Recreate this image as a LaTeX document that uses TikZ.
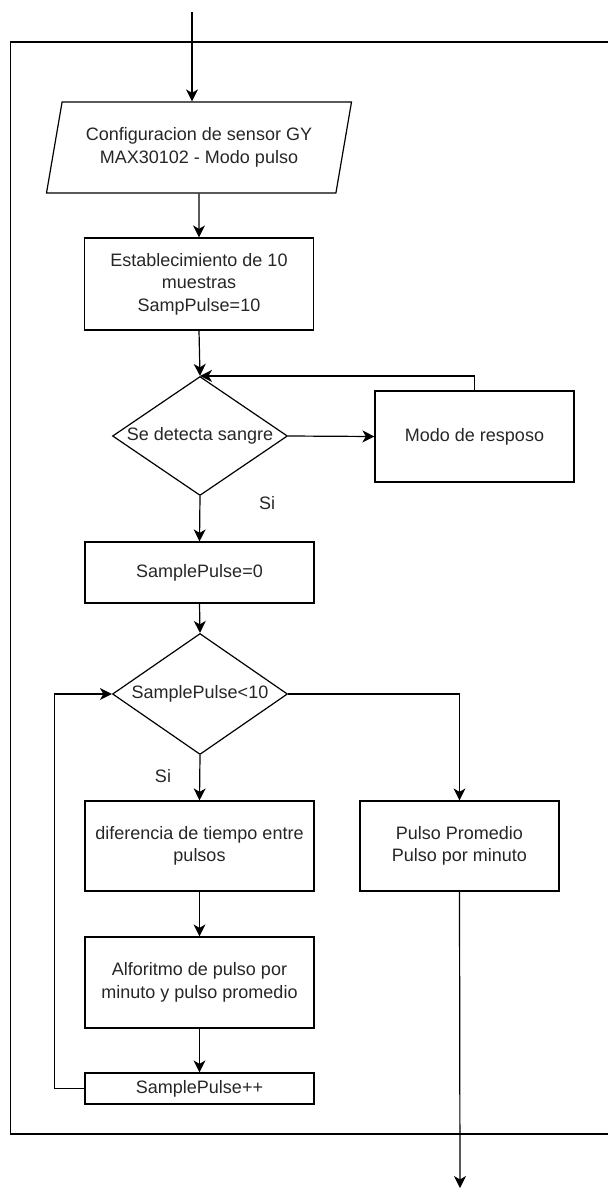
\documentclass[tikz,border=0pt]{standalone}
\usepackage{fontspec}
\setmainfont{Liberation Sans}
\usetikzlibrary{positioning, arrows.meta, shapes.geometric}

\begin{document}
\begin{tikzpicture}[x=1pt, y=-1pt, line width=1.2pt,
    every node/.style={font=\fontsize{18}{22.5}\selectfont, text=black!85, align=center},
    proc/.style={draw, rectangle, minimum width=229, inner sep=0pt},
    cond/.style={draw, diamond, aspect=1.47, minimum width=175, minimum height=119, inner sep=0pt},
    inout/.style={draw, trapezium, trapezium left angle=71, trapezium right angle=109,
        trapezium stretches body, minimum width=305, minimum height=91, inner sep=3pt},
    flow/.style={-{Stealth[length=12pt, width=12pt, inset=3.5pt]}},
]
    \useasboundingbox (0,0) rectangle (608,1190);
    \draw (608,42) -- (10.5,42) -- (10.5,1134) -- (608,1134);

    \coordinate (start) at (192,12);
    \coordinate (finish) at (460,1188);
    \node[inout] (conf) at (199,147.5) {Configuracion de sensor GY\\MAX30102 - Modo pulso};
    \node[proc, minimum height=92] (est) at (199,284) {Establecimiento de 10\\muestras\\SampPulse=10};
    \node[cond] (det) at (200,436) {Se detecta sangre};
    \node[proc, minimum width=199, minimum height=91] (rep) at (474.5,436.5) {Modo de resposo};
    \node[proc, minimum height=61] (sp0) at (199.5,572.5) {SamplePulse=0};
    \node[cond, minimum height=121] (cmp) at (200,694) {SamplePulse<10};
    \node[proc, minimum height=90] (dif) at (199.5,846) {diferencia de tiempo entre\\pulsos};
    \node[proc, minimum width=199, minimum height=90] (prom) at (459.5,846) {Pulso Promedio\\Pulso por minuto};
    \node[proc, minimum height=91] (alg) at (199.5,982.5) {Alforitmo de pulso por\\minuto y pulso promedio};
    \node[proc, minimum height=31] (inc) at (199.5,1088.5) {SamplePulse++};

    \draw[flow] (start) -- (start |- conf.north);
    \draw[flow] (conf.south) -- (est.north);
    \draw[flow] (est.south) -- (det.north);
    \draw[flow] (det.east) -- (rep.west);
    \draw[flow] (rep.north) |- (det.north);
    \draw[flow] (det.south) -- (sp0.north);
    \draw[flow] (sp0.south) -- (cmp.north);
    \draw[flow] (cmp.south) -- (dif.north);
    \draw[flow] (cmp.east) -| (prom.north);
    \draw[flow] (dif.south) -- (alg.north);
    \draw[flow] (alg.south) -- (inc.north);
    \draw[flow] (inc.west) -- ++(-30,0) |- (cmp.west);
    \draw[flow] (prom.south) -- (finish);

    \node (si1) at (267,503) {Si};
    \node (si2) at (163,776) {Si};
\end{tikzpicture}
\end{document}
